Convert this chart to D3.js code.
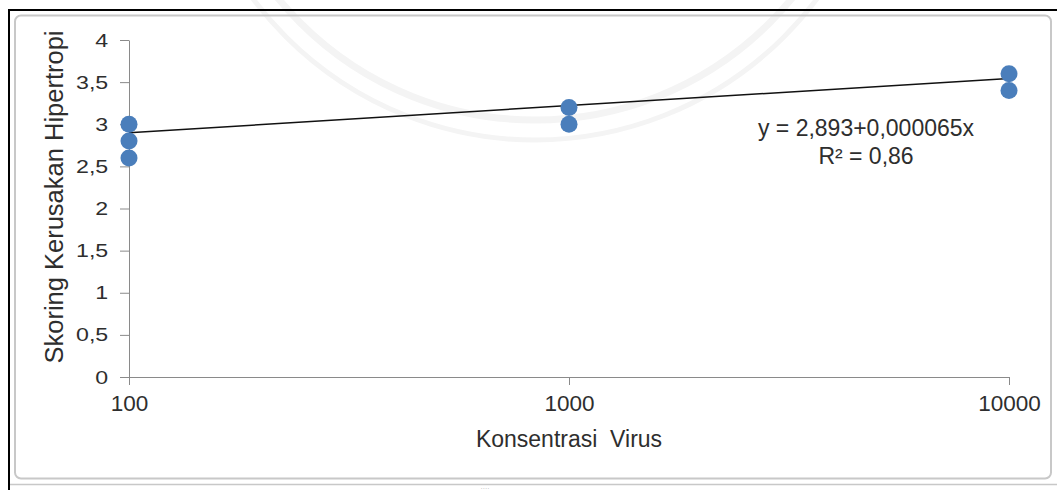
<!DOCTYPE html>
<html>
<head>
<meta charset="utf-8">
<script src="https://cdn.jsdelivr.net/npm/d3@7"></script>
<style>
  html, body { margin: 0; padding: 0; background: #fff; }
  svg { display: block; font-family: "Liberation Sans", Arial, sans-serif; }
  .pre { white-space: pre; }
</style>
</head>
<body>
<svg id="chart" width="1057" height="490"></svg>
<script>
// Virus concentration (log axis) and hypertrophy damage scores
const concentrations = [100, 100, 100, 1000, 1000, 10000, 10000];
const scores = [3.0, 2.8, 2.6, 3.2, 3.0, 3.6, 3.4];

const xTicks = [100, 1000, 10000];
const yTicks = [0, 0.5, 1, 1.5, 2, 2.5, 3, 3.5, 4];

// Linear trend reported for the series
const trendIntercept = 2.893;
const trendSlope = 0.000065;
const trendR2 = 0.86;

const xTitle = "Konsentrasi  Virus";
const yTitle = "Skoring Kerusakan Hipertropi";

const svg = d3.select("#chart");
const fmt = v => String(v).replace(".", ",");

// faint seal in the page background
const seal = svg.append("g").attr("fill", "none");
[[332, 7], [352, 5]].forEach(([r, w]) => {
  seal.append("circle").attr("cx", 535).attr("cy", -212).attr("r", r)
    .attr("stroke", "#f4f4f4").attr("stroke-width", w);
});

// sheet frame
svg.append("rect").attr("x", 9).attr("y", 10).attr("width", 1060).attr("height", 490)
  .attr("fill", "none").attr("stroke", "#000").attr("stroke-width", 2);
svg.append("rect").attr("x", 15).attr("y", 15.5).attr("width", 1036).attr("height", 463)
  .attr("rx", 6).attr("fill", "none").attr("stroke", "#c8c8c8").attr("stroke-width", 2);
svg.append("line").attr("x1", 10).attr("x2", 1057).attr("y1", 484.5).attr("y2", 484.5)
  .attr("stroke", "#c8c8c8").attr("stroke-width", 1.5);
svg.append("text").attr("x", 485).attr("y", 489).attr("text-anchor", "middle")
  .attr("font-size", 8).attr("fill", "#c0c0c0").text("....");

const x = d3.scaleLog().domain([100, 10000]).range([129, 1009]);
const y = d3.scaleLinear().domain([0, 4]).range([377, 40]);

const axisColor = "#8a8a8a";
const textColor = "#2e2e2e";

// y axis (labels drawn slightly widened)
const yStretch = 1.22;
const gy = svg.append("g").attr("transform", `translate(${x.range()[0]},0)`)
  .call(d3.axisLeft(y).tickValues(yTicks).tickFormat(fmt).tickSizeOuter(0).tickSizeInner(9).tickPadding(8));
gy.select(".domain").attr("stroke", axisColor);
gy.selectAll(".tick line").attr("stroke", axisColor);
gy.selectAll(".tick text").attr("font-size", 19).attr("fill", textColor)
  .attr("font-family", "Liberation Sans, Arial, sans-serif")
  .attr("transform", `scale(${yStretch},1)`);

// x axis
const gx = svg.append("g").attr("transform", `translate(0,${y(0)})`)
  .call(d3.axisBottom(x).tickValues(xTicks).tickFormat(d3.format("d")).tickSizeOuter(0).tickSizeInner(8).tickPadding(10));
gx.select(".domain").attr("stroke", axisColor);
gx.selectAll(".tick line").attr("stroke", axisColor);
gx.selectAll(".tick text").attr("font-size", 22.5).attr("fill", textColor)
  .attr("font-family", "Liberation Sans, Arial, sans-serif");

// axis titles
svg.append("text").attr("class", "pre").attr("x", x(1000)).attr("y", 447).attr("text-anchor", "middle")
  .attr("font-size", 23).attr("fill", textColor).text(xTitle);
svg.append("text").attr("transform", `translate(63,197) rotate(-90)`)
  .attr("text-anchor", "middle").attr("font-size", 25.5).attr("fill", textColor).text(yTitle);

// trend line
const trendPts = xTicks.filter((d, i) => i === 0 || i === xTicks.length - 1)
  .map(c => [x(c), y(trendIntercept + trendSlope * c)]);
svg.append("path").attr("d", d3.line()(trendPts))
  .attr("stroke", "#111").attr("stroke-width", 1.5).attr("fill", "none");

// data points
svg.append("g").selectAll("circle").data(concentrations.map((c, i) => [c, scores[i]]))
  .join("circle")
  .attr("cx", d => x(d[0])).attr("cy", d => y(d[1])).attr("r", 8.5)
  .attr("fill", "#4a7ebb");

// equation label
const eq = svg.append("text").attr("text-anchor", "middle").attr("font-size", 23).attr("fill", textColor);
eq.append("tspan").attr("x", 866).attr("y", 136)
  .text(`y = ${fmt(trendIntercept)}+${fmt(trendSlope.toFixed(6))}x`);
eq.append("tspan").attr("x", 866).attr("y", 164)
  .text(`R² = ${fmt(trendR2)}`);
</script>
</body>
</html>
